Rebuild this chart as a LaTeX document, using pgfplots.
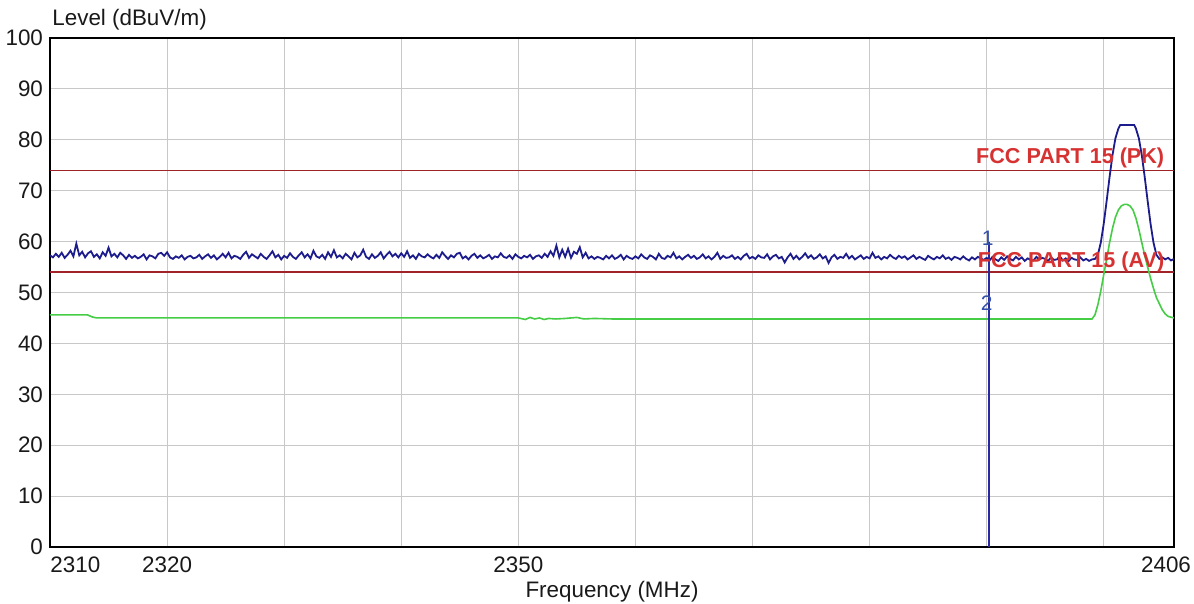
\documentclass[border=0pt]{standalone}
\usepackage{fontspec}
\setmainfont{Liberation Sans}
\usepackage{pgfplots}
\pgfplotsset{compat=1.18}
\definecolor{trace}{RGB}{28,28,140}
\definecolor{avg}{RGB}{70,205,70}
\definecolor{limit}{RGB}{160,35,40}
\definecolor{limittext}{RGB}{215,50,50}
\definecolor{markc}{RGB}{40,40,160}
\definecolor{marktext}{RGB}{50,80,170}
\definecolor{gridc}{RGB}{200,200,200}

\begin{document}
\begin{tikzpicture}[font=\fontsize{11.2}{13}\selectfont]
\useasboundingbox (0,0) rectangle (597pt,302pt);
\begin{axis}[
  at={(25pt,28.5pt)}, anchor=south west,
  scale only axis, width=562pt, height=254.5pt,
  xmin=2310, xmax=2406, ymin=0, ymax=100,
  xtick={2320,2330,...,2400}, xticklabels={2320,,,2350,,,,,},
  ytick={0,10,...,100},
  major tick length=0pt,
  grid=major, major grid style={gridc, line width=0.5pt},
  axis line style={line width=1pt},
  tick label style={font=\fontsize{11.2}{13}\selectfont, text=black!90},
  xticklabel style={yshift=-1.5pt},
  /pgf/number format/assume math mode=true,
  clip=true,
]
% limit lines
\addplot[limit, line width=0.8pt] coordinates {(2310,74)(2406,74)};
\addplot[limit, line width=0.8pt] coordinates {(2310,54)(2406,54)};

% average detector trace
\addplot[avg, line width=0.8pt] coordinates {
(2310,45.6)(2312,45.6)(2313.2,45.6)(2313.6,45.2)(2314,45.0)(2320,45.0)(2330,45.0)(2340,45.0)(2350,45.0)
(2350.6,44.7)(2351.0,45.1)(2351.4,44.8)(2351.8,45.0)(2352.2,44.7)(2352.6,44.9)(2353.2,44.8)(2354,44.9)
(2355,45.1)(2355.6,44.8)(2356.5,44.9)(2358,44.8)(2370,44.8)(2380,44.8)(2390,44.8)(2399.0,44.8)
(2399.25,45.6)(2399.5,47.6)(2399.75,50.3)(2400.0,53.5)(2400.25,56.6)(2400.5,59.8)(2400.75,62.6)
(2401.0,64.8)(2401.25,66.2)(2401.5,67.0)(2401.75,67.3)(2402.0,67.3)(2402.25,67.0)(2402.5,66.2)
(2402.75,64.6)(2403.0,62.4)(2403.25,59.8)(2403.5,57.3)(2403.75,55.0)(2404.0,52.8)(2404.25,50.8)
(2404.5,49.0)(2404.75,47.8)(2405.0,46.6)(2405.25,45.8)(2405.5,45.3)(2406,45.0)
};

% peak detector trace
\addplot[trace, line width=0.9pt] coordinates {
(2310.00,57.3)(2310.25,56.9)(2310.50,57.6)(2310.75,57.0)
(2311.00,57.8)(2311.25,56.8)(2311.50,57.4)(2311.75,58.2)
(2312.00,57.1)(2312.25,59.6)(2312.50,57.3)(2312.75,58.0)
(2313.00,56.9)(2313.25,57.7)(2313.50,58.1)(2313.75,57.0)
(2314.00,57.5)(2314.25,56.7)(2314.50,57.9)(2314.75,57.2)
(2315.00,58.8)(2315.25,57.1)(2315.50,57.6)(2315.75,56.9)
(2316.00,57.8)(2316.25,57.3)(2316.50,56.6)(2316.75,57.4)
(2317.00,56.8)(2317.25,57.2)(2317.50,56.7)(2317.75,57.0)
(2318.00,57.5)(2318.25,56.5)(2318.50,57.3)(2318.75,57.1)
(2319.00,56.7)(2319.25,57.6)(2319.50,57.8)(2319.75,57.2)
(2320.00,57.9)(2320.25,56.9)(2320.50,56.6)(2320.75,57.1)
(2321.00,56.8)(2321.25,57.3)(2321.50,56.5)(2321.75,57.0)
(2322.00,57.2)(2322.25,56.7)(2322.50,56.9)(2322.75,57.4)
(2323.00,56.6)(2323.25,57.1)(2323.50,57.5)(2323.75,56.8)
(2324.00,57.3)(2324.25,56.5)(2324.50,57.0)(2324.75,57.6)
(2325.00,56.9)(2325.25,57.8)(2325.50,56.7)(2325.75,57.2)
(2326.00,57.0)(2326.25,56.6)(2326.50,57.4)(2326.75,58.0)
(2327.00,56.8)(2327.25,57.5)(2327.50,57.1)(2327.75,56.7)
(2328.00,57.6)(2328.25,57.0)(2328.50,56.6)(2328.75,57.3)
(2329.00,58.1)(2329.25,56.9)(2329.50,57.4)(2329.75,56.5)
(2330.00,57.2)(2330.25,56.8)(2330.50,57.7)(2330.75,57.0)
(2331.00,56.6)(2331.25,57.3)(2331.50,57.9)(2331.75,56.9)
(2332.00,57.5)(2332.25,56.7)(2332.50,58.2)(2332.75,57.1)
(2333.00,56.8)(2333.25,57.4)(2333.50,56.6)(2333.75,57.9)
(2334.00,57.0)(2334.25,58.3)(2334.50,56.9)(2334.75,57.3)
(2335.00,56.7)(2335.25,57.6)(2335.50,57.1)(2335.75,56.5)
(2336.00,57.8)(2336.25,56.9)(2336.50,57.3)(2336.75,58.4)
(2337.00,57.0)(2337.25,56.6)(2337.50,57.5)(2337.75,56.8)
(2338.00,57.2)(2338.25,57.9)(2338.50,56.7)(2338.75,57.4)
(2339.00,58.0)(2339.25,57.1)(2339.50,57.6)(2339.75,56.9)
(2340.00,57.7)(2340.25,57.0)(2340.50,58.1)(2340.75,56.8)
(2341.00,57.3)(2341.25,56.6)(2341.50,57.6)(2341.75,57.1)
(2342.00,56.9)(2342.25,57.5)(2342.50,57.0)(2342.75,56.7)
(2343.00,57.4)(2343.25,56.8)(2343.50,57.9)(2343.75,57.2)
(2344.00,56.6)(2344.25,57.3)(2344.50,56.9)(2344.75,57.6)
(2345.00,57.8)(2345.25,56.7)(2345.50,57.1)(2345.75,56.5)
(2346.00,57.2)(2346.25,57.6)(2346.50,56.8)(2346.75,57.3)
(2347.00,56.7)(2347.25,57.0)(2347.50,57.4)(2347.75,56.6)
(2348.00,57.1)(2348.25,56.9)(2348.50,57.7)(2348.75,57.0)
(2349.00,56.8)(2349.25,57.3)(2349.50,56.6)(2349.75,57.5)
(2350.00,57.0)(2350.25,56.7)(2350.50,57.2)(2350.75,56.9)
(2351.00,57.4)(2351.25,56.6)(2351.50,57.1)(2351.75,57.3)
(2352.00,56.8)(2352.25,57.6)(2352.50,57.0)(2352.75,58.1)
(2353.00,57.2)(2353.25,59.2)(2353.50,56.9)(2353.75,58.4)
(2354.00,57.0)(2354.25,58.6)(2354.50,56.8)(2354.75,58.0)
(2355.00,57.6)(2355.25,58.9)(2355.50,56.9)(2355.75,57.8)
(2356.00,56.7)(2356.25,57.1)(2356.50,56.6)(2356.75,57.0)
(2357.00,56.8)(2357.25,56.5)(2357.50,57.2)(2357.75,56.7)
(2358.00,57.3)(2358.25,56.6)(2358.50,56.9)(2358.75,57.4)
(2359.00,56.5)(2359.25,57.2)(2359.50,56.8)(2359.75,56.6)
(2360.00,57.1)(2360.25,56.7)(2360.50,57.5)(2360.75,56.9)
(2361.00,56.6)(2361.25,57.3)(2361.50,57.0)(2361.75,56.5)
(2362.00,57.6)(2362.25,56.8)(2362.50,56.6)(2362.75,57.2)
(2363.00,56.9)(2363.25,57.8)(2363.50,56.7)(2363.75,57.1)
(2364.00,56.5)(2364.25,57.0)(2364.50,57.4)(2364.75,56.8)
(2365.00,57.2)(2365.25,56.6)(2365.50,56.9)(2365.75,57.5)
(2366.00,56.7)(2366.25,57.1)(2366.50,56.5)(2366.75,57.0)
(2367.00,57.8)(2367.25,56.6)(2367.50,57.2)(2367.75,56.8)
(2368.00,56.9)(2368.25,57.3)(2368.50,56.6)(2368.75,57.0)
(2369.00,56.5)(2369.25,57.2)(2369.50,57.6)(2369.75,56.7)
(2370.00,57.0)(2370.25,56.6)(2370.50,57.3)(2370.75,56.9)
(2371.00,56.8)(2371.25,57.5)(2371.50,56.5)(2371.75,57.1)
(2372.00,57.4)(2372.25,56.7)(2372.50,57.0)(2372.75,55.9)
(2373.00,56.9)(2373.25,57.6)(2373.50,56.6)(2373.75,57.2)
(2374.00,56.5)(2374.25,57.0)(2374.50,57.7)(2374.75,56.8)
(2375.00,57.3)(2375.25,56.6)(2375.50,56.9)(2375.75,57.5)
(2376.00,56.7)(2376.25,57.1)(2376.50,55.8)(2376.75,56.9)
(2377.00,57.4)(2377.25,56.6)(2377.50,57.0)(2377.75,56.8)
(2378.00,57.6)(2378.25,56.7)(2378.50,57.2)(2378.75,56.5)
(2379.00,56.9)(2379.25,57.3)(2379.50,56.6)(2379.75,57.0)
(2380.00,56.7)(2380.25,57.8)(2380.50,56.8)(2380.75,57.1)
(2381.00,56.5)(2381.25,57.0)(2381.50,56.7)(2381.75,57.4)
(2382.00,56.9)(2382.25,56.6)(2382.50,57.2)(2382.75,56.8)
(2383.00,57.1)(2383.25,56.5)(2383.50,56.9)(2383.75,57.3)
(2384.00,56.6)(2384.25,57.0)(2384.50,56.7)(2384.75,56.4)
(2385.00,57.2)(2385.25,56.8)(2385.50,56.5)(2385.75,57.0)
(2386.00,56.7)(2386.25,57.3)(2386.50,56.6)(2386.75,56.9)
(2387.00,56.4)(2387.25,57.0)(2387.50,56.8)(2387.75,56.5)
(2388.00,57.1)(2388.25,56.6)(2388.50,56.3)(2388.75,56.9)
(2389.00,56.5)(2389.25,57.0)(2389.50,56.7)(2389.75,56.4)
(2390.00,56.8)(2390.25,56.3)(2390.50,57.0)(2390.75,56.5)
(2391.00,56.2)(2391.25,56.9)(2391.50,56.4)(2391.75,57.1)
(2392.00,56.6)(2392.25,56.3)(2392.50,57.0)(2392.75,56.5)
(2393.00,56.9)(2393.25,56.2)(2393.50,56.7)(2393.75,56.4)
(2394.00,56.3)(2394.25,57.0)(2394.50,56.5)(2394.75,56.8)
(2395.00,56.6)(2395.25,56.2)(2395.50,56.9)(2395.75,56.4)
(2396.00,56.5)(2396.25,57.1)(2396.50,56.3)(2396.75,56.7)
(2397.00,56.2)(2397.25,56.8)(2397.50,56.5)(2397.75,56.4)
(2398.00,56.9)(2398.25,56.3)(2398.50,56.6)(2398.75,56.2)
(2399.00,56.5)(2399.25,56.6)
(2399.50,57.4)(2399.75,59.8)(2400.00,63.5)(2400.25,68.0)(2400.50,72.7)(2400.75,77.0)
(2401.00,80.3)(2401.25,82.2)(2401.40,82.9)(2402.60,82.9)(2402.75,82.2)(2403.00,80.3)
(2403.25,77.0)(2403.50,72.7)(2403.75,68.0)(2404.00,63.5)(2404.25,59.8)(2404.50,57.4)
(2404.75,56.6)(2405.00,56.9)(2405.25,56.5)(2405.50,56.8)(2405.75,56.3)(2406.00,56.6)
};

% marker line
\addplot[markc, line width=0.8pt] coordinates {(2390.2,0)(2390.2,60)};

\node[text=marktext, font=\fontsize{10.5}{12}\selectfont] at (axis cs:2390.1,60.7) {1};
\node[text=marktext, font=\fontsize{10.5}{12}\selectfont] at (axis cs:2390.0,47.9) {2};

\node[text=limittext, anchor=base east, inner sep=0pt, font=\fontsize{10.8}{13}\selectfont\bfseries] at (axis cs:2405.2,75.4) {FCC PART 15 (PK)};
\node[text=limittext, anchor=base east, inner sep=0pt, font=\fontsize{10.8}{13}\selectfont\bfseries] at (axis cs:2405.2,55.0) {FCC PART 15 (AV)};
\end{axis}
% end labels of the frequency axis
\node[anchor=west, inner sep=0pt, text=black!90] at (25pt,19.5pt) {2310};
\node[anchor=center, inner sep=0pt, text=black!90] at (583pt,19.5pt) {2406};
\node[anchor=center, text=black!90] at (306pt,6pt) {Frequency (MHz)};
\node[anchor=west, inner sep=0pt, text=black!90] at (26pt,292pt) {Level (dBuV/m)};
\end{tikzpicture}
\end{document}
